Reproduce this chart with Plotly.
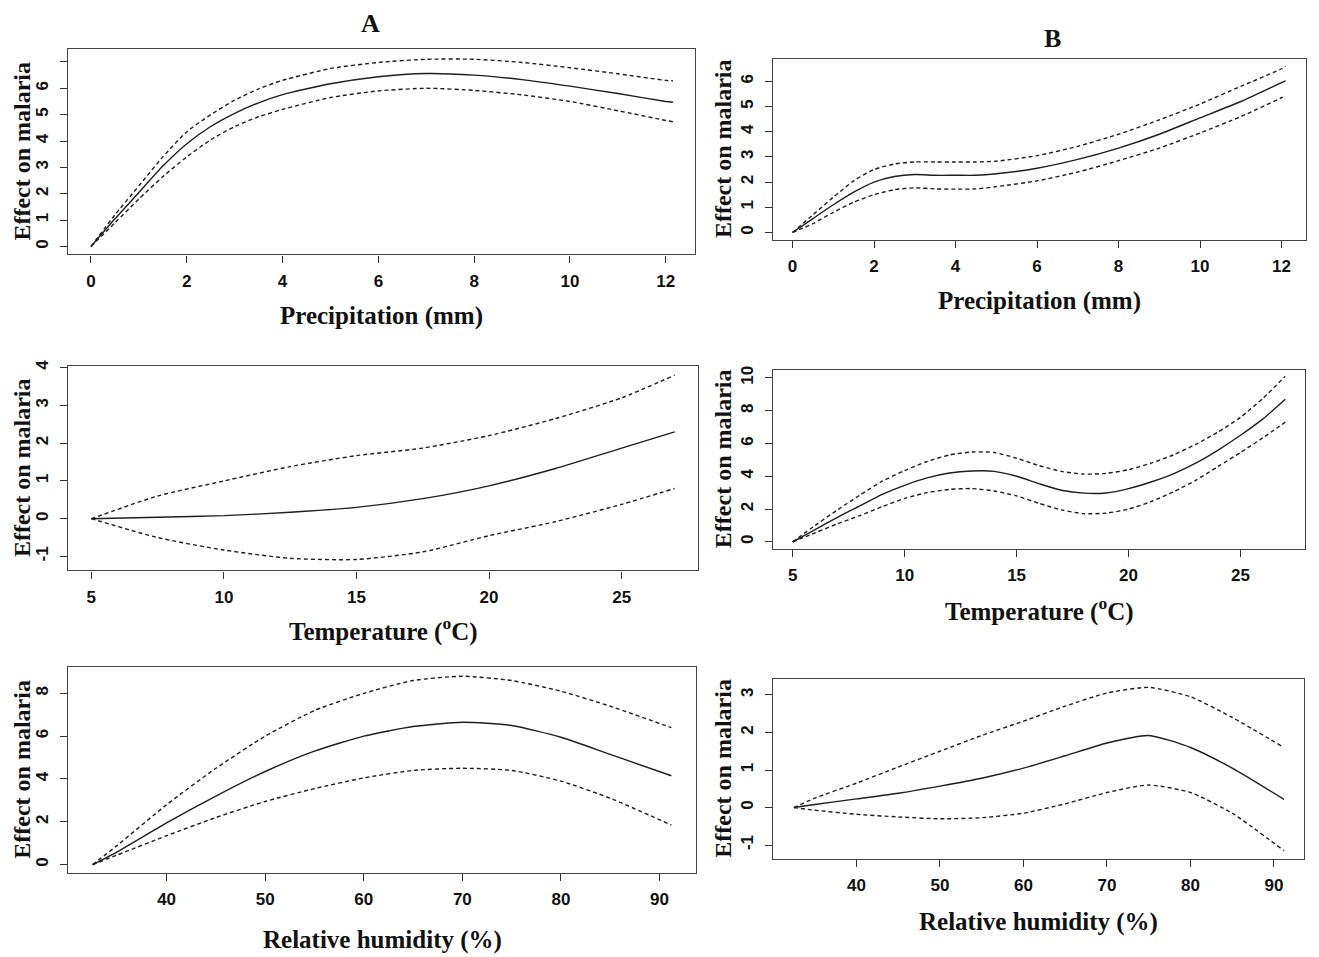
import plotly.graph_objects as go

# ---------------- Data ----------------
# Column A, precipitation
a_pre_x = [0, 0.5, 1, 1.5, 2, 2.5, 3, 3.5, 4, 5, 6, 7, 8, 9, 10, 11, 12, 12.15]
a_pre_fit = [0, 1.05, 2.05, 3.05, 3.9, 4.55, 5.05, 5.45, 5.76, 6.17, 6.44, 6.56, 6.5, 6.33, 6.08, 5.8, 5.5, 5.47]
a_pre_up = [0, 1.2, 2.3, 3.4, 4.35, 5.0, 5.55, 5.98, 6.3, 6.75, 6.98, 7.1, 7.1, 6.98, 6.78, 6.55, 6.3, 6.28]
a_pre_lo = [0, 0.9, 1.8, 2.65, 3.4, 4.05, 4.55, 4.92, 5.2, 5.65, 5.9, 6.0, 5.92, 5.75, 5.5, 5.15, 4.78, 4.73]

# Column B, precipitation
b_pre_x = [0, 0.5, 1, 1.5, 2, 2.5, 3, 3.5, 4, 4.5, 5, 6, 7, 8, 9, 10, 11, 12, 12.1]
b_pre_fit = [0, 0.55, 1.1, 1.6, 2.0, 2.22, 2.3, 2.27, 2.27, 2.27, 2.33, 2.55, 2.9, 3.35, 3.9, 4.55, 5.2, 5.95, 6.02]
b_pre_up = [0, 0.7, 1.4, 2.05, 2.5, 2.72, 2.8, 2.8, 2.8, 2.8, 2.83, 3.05, 3.42, 3.9, 4.47, 5.1, 5.8, 6.5, 6.6]
b_pre_lo = [0, 0.35, 0.8, 1.2, 1.5, 1.7, 1.77, 1.73, 1.72, 1.73, 1.82, 2.05, 2.4, 2.85, 3.35, 3.95, 4.6, 5.35, 5.45]

# Column A, temperature
a_tmp_x = [5, 7.5, 10, 12.5, 15, 17.5, 20, 22.5, 25, 27]
a_tmp_fit = [0, 0.04, 0.08, 0.17, 0.3, 0.53, 0.87, 1.33, 1.87, 2.3]
a_tmp_up = [0, 0.6, 1.0, 1.38, 1.67, 1.87, 2.2, 2.65, 3.2, 3.8]
a_tmp_lo = [0, -0.5, -0.83, -1.05, -1.08, -0.88, -0.45, -0.08, 0.38, 0.8]

# Column B, temperature
b_tmp_x = [5, 6, 7, 8, 9, 10, 11, 12, 13, 14, 15, 16, 17, 18, 19, 20, 21, 22, 23, 24, 25, 26, 27]
b_tmp_fit = [0, 0.75, 1.5, 2.2, 2.9, 3.45, 3.9, 4.2, 4.32, 4.3, 4.0, 3.55, 3.15, 2.97, 2.98, 3.25, 3.65, 4.15, 4.8, 5.6, 6.5, 7.5, 8.7]
b_tmp_up = [0, 1.0, 1.95, 2.85, 3.7, 4.35, 4.9, 5.3, 5.48, 5.45, 5.1, 4.65, 4.3, 4.13, 4.18, 4.4, 4.8, 5.3, 5.95, 6.7, 7.6, 8.75, 10.1]
b_tmp_lo = [0, 0.55, 1.1, 1.6, 2.15, 2.65, 3.0, 3.2, 3.25, 3.1, 2.8, 2.35, 1.95, 1.72, 1.75, 2.0, 2.45, 3.05, 3.75, 4.6, 5.45, 6.35, 7.3]

# Column A, relative humidity
a_rh_x = [32.5, 35, 40, 45, 50, 55, 60, 65, 70, 75, 80, 85, 91.2]
a_rh_fit = [0, 0.6, 1.95, 3.2, 4.35, 5.3, 6.0, 6.45, 6.65, 6.5, 5.95, 5.15, 4.15]
a_rh_up = [0, 0.9, 2.8, 4.5, 6.0, 7.2, 8.0, 8.6, 8.8, 8.6, 8.1, 7.4, 6.4]
a_rh_lo = [0, 0.45, 1.35, 2.2, 2.95, 3.55, 4.05, 4.4, 4.5, 4.4, 3.9, 3.1, 1.85]

# Column B, relative humidity
b_rh_x = [32.5, 35, 40, 45, 50, 55, 60, 65, 70, 75, 80, 85, 91.2]
b_rh_fit = [0, 0.08, 0.23, 0.38, 0.57, 0.78, 1.05, 1.38, 1.72, 1.92, 1.6, 1.05, 0.22]
b_rh_up = [0, 0.25, 0.65, 1.08, 1.5, 1.92, 2.3, 2.7, 3.05, 3.2, 2.95, 2.4, 1.6]
b_rh_lo = [0, -0.07, -0.18, -0.25, -0.3, -0.27, -0.15, 0.1, 0.4, 0.6, 0.4, -0.15, -1.15]

# Tick values
pre_ticks = [0, 2, 4, 6, 8, 10, 12]
tmp_ticks = [5, 10, 15, 20, 25]
rh_ticks = [40, 50, 60, 70, 80, 90]

x_title_pre = "Precipitation (mm)"
x_title_tmp = "Temperature (<sup>o</sup>C)"
x_title_rh = "Relative humidity (%)"
y_title = "Effect on malaria"
col_titles = ["A", "B"]

# ---------------- Layout ----------------
W, H = 1319, 957
SERIF = "Liberation Serif, Times New Roman, serif"
SANS = "Liberation Sans, Arial, sans-serif"
INK = "#1e1e1e"

panels = [
    dict(x=a_pre_x, fit=a_pre_fit, up=a_pre_up, lo=a_pre_lo, box=(68, 695, 43, 250),
         xr=[-0.48, 12.61], yr=[-0.3, 7.5], xt=pre_ticks, yt=[0, 1, 2, 3, 4, 5, 6, 7],
         ytt=["0", "1", "2", "3", "4", "5", "6", ""], xtitle=x_title_pre, xty=312),
    dict(x=b_pre_x, fit=b_pre_fit, up=b_pre_up, lo=b_pre_lo, box=(773, 1306, 53, 235),
         xr=[-0.48, 12.6], yr=[-0.28, 6.9], xt=pre_ticks, yt=[0, 1, 2, 3, 4, 5, 6],
         ytt=None, xtitle=x_title_pre, xty=297),
    dict(x=a_tmp_x, fit=a_tmp_fit, up=a_tmp_up, lo=a_tmp_lo, box=(68, 698, 362, 568),
         xr=[4.12, 27.88], yr=[-1.37, 4.05], xt=tmp_ticks, yt=[-1, 0, 1, 2, 3, 4],
         ytt=None, xtitle=x_title_tmp, xty=627),
    dict(x=b_tmp_x, fit=b_tmp_fit, up=b_tmp_up, lo=b_tmp_lo, box=(773, 1305, 366, 546),
         xr=[4.12, 27.88], yr=[-0.41, 10.5], xt=tmp_ticks, yt=[0, 2, 4, 6, 8, 10],
         ytt=None, xtitle=x_title_tmp, xty=607),
    dict(x=a_rh_x, fit=a_rh_fit, up=a_rh_up, lo=a_rh_lo, box=(68, 696, 665, 872),
         xr=[30.0, 93.7], yr=[-0.37, 9.24], xt=rh_ticks, yt=[0, 2, 4, 6, 8],
         ytt=None, xtitle=x_title_rh, xty=940),
    dict(x=b_rh_x, fit=b_rh_fit, up=b_rh_up, lo=b_rh_lo, box=(773, 1304, 677, 858),
         xr=[30.0, 93.6], yr=[-1.36, 3.43], xt=rh_ticks, yt=[-1, 0, 1, 2, 3],
         ytt=None, xtitle=x_title_rh, xty=922),
]

fig = go.Figure()
annotations = []
xtickfont = dict(family=SANS, size=17, color="#111", weight="bold")
ytickfont = dict(family=SANS, size=17, color="#111", weight="bold")

for i, p in enumerate(panels, start=1):
    xa = "x" if i == 1 else f"x{i}"
    ya = "y" if i == 1 else f"y{i}"
    for series, dash in ((p["fit"], "solid"), (p["up"], "4px,3px"), (p["lo"], "4px,3px")):
        fig.add_trace(go.Scatter(
            x=p["x"], y=series, mode="lines", xaxis=xa, yaxis=ya,
            line=dict(color=INK, width=1.4, dash=dash, shape="spline", smoothing=0.6),
            showlegend=False, hoverinfo="skip"))
    l, r, t, b = p["box"]
    xkey = "xaxis" if i == 1 else f"xaxis{i}"
    ykey = "yaxis" if i == 1 else f"yaxis{i}"
    fig.update_layout({
        xkey: dict(domain=[l / W, r / W], range=p["xr"], anchor=ya,
                   tickmode="array", tickvals=p["xt"], ticks="outside", ticklen=7,
                   tickwidth=1, tickcolor="#333", showline=True, linecolor="#444",
                   linewidth=1.3, mirror=True, showgrid=False, zeroline=False,
                   ticklabelstandoff=4,
                   tickfont=xtickfont, fixedrange=True),
        ykey: dict(domain=[1 - b / H, 1 - t / H], range=p["yr"], anchor=xa,
                   tickmode="array", tickvals=p["yt"],
                   ticktext=p["ytt"] if p["ytt"] else [str(v) for v in p["yt"]],
                   tickangle=-90, ticks="outside", ticklen=7,
                   tickwidth=1, tickcolor="#333", showline=True, linecolor="#444",
                   linewidth=1.3, mirror=True, showgrid=False, zeroline=False,
                   ticklabelstandoff=5,
                   tickfont=ytickfont, fixedrange=True),
    })
    annotations.append(dict(text=f"<b>{p['xtitle']}</b>", x=(l + r) / 2 / W, y=1 - p["xty"] / H,
                            xref="paper", yref="paper", showarrow=False,
                            xanchor="center", yanchor="middle",
                            font=dict(family=SERIF, size=25, color="#111")))
    yt_x = 22 if l < 300 else 723
    annotations.append(dict(text=f"<b>{y_title}</b>", x=yt_x / W, y=1 - (t + b) / 2 / H,
                            xref="paper", yref="paper", showarrow=False, textangle=-90,
                            xanchor="center", yanchor="middle",
                            font=dict(family=SERIF, size=24, color="#111")))

annotations.append(dict(text=f"<b>{col_titles[0]}</b>", x=370 / W, y=1 - 18 / H,
                        xref="paper", yref="paper", showarrow=False,
                        xanchor="center", yanchor="middle",
                        font=dict(family=SERIF, size=26, color="#111")))
annotations.append(dict(text=f"<b>{col_titles[1]}</b>", x=1052 / W, y=1 - 33 / H,
                        xref="paper", yref="paper", showarrow=False,
                        xanchor="center", yanchor="middle",
                        font=dict(family=SERIF, size=26, color="#111")))

fig.update_layout(width=W, height=H, margin=dict(l=0, r=0, t=0, b=0),
                  plot_bgcolor="white", paper_bgcolor="white",
                  annotations=annotations, showlegend=False)

fig.write_html("out.html", config={"displayModeBar": False},
               post_script="document.body.style.margin='0px';document.body.style.overflow='hidden';")
